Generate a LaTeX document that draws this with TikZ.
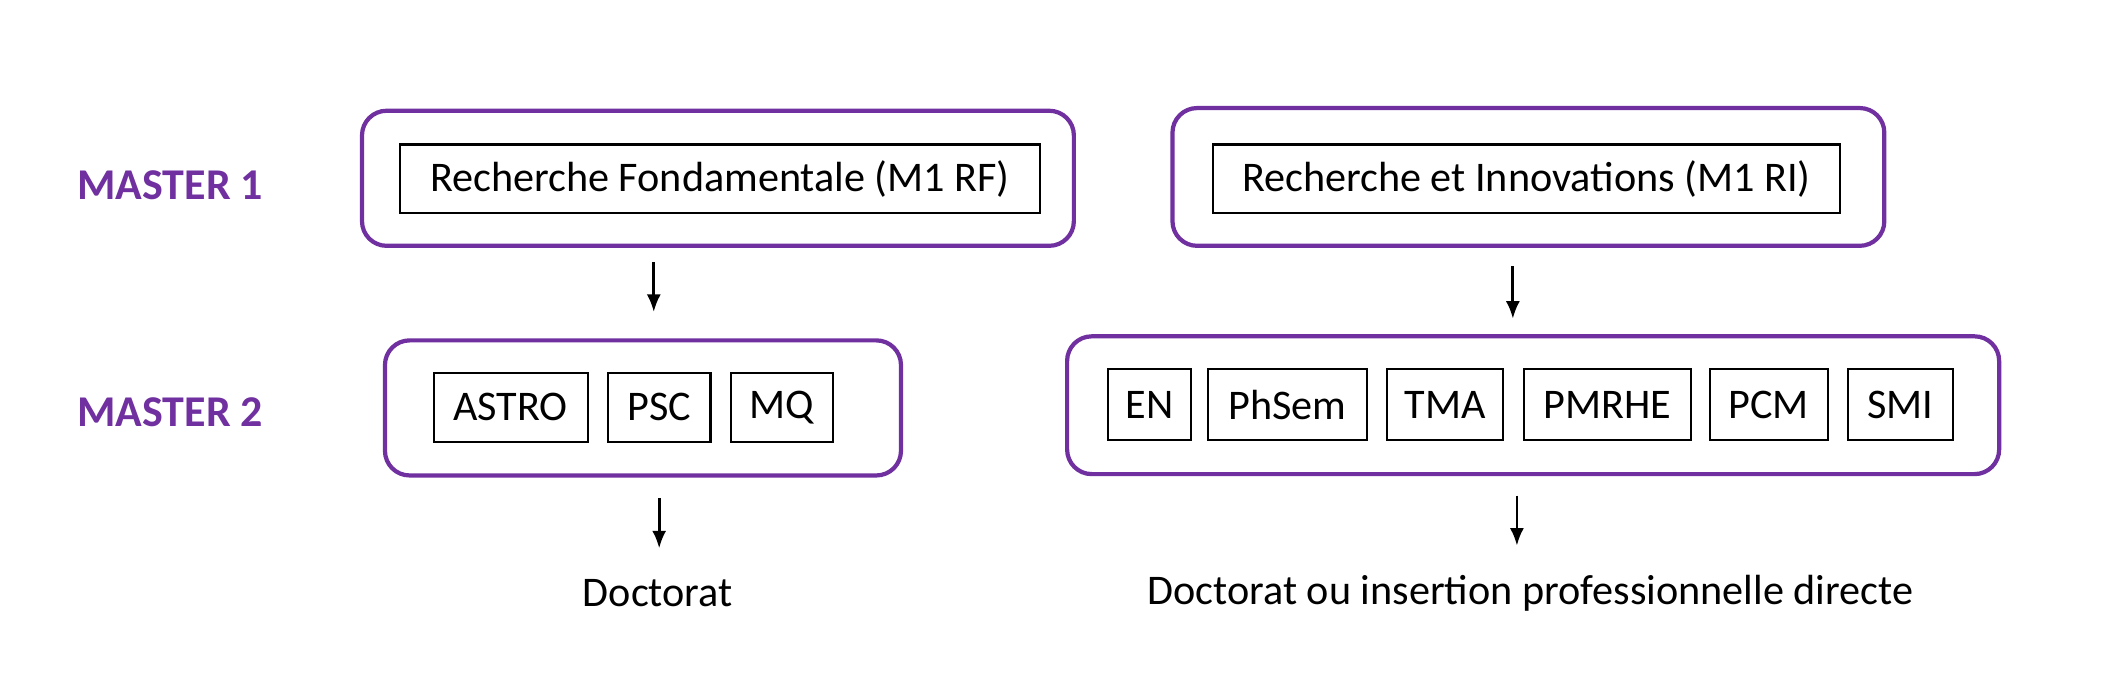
\documentclass[tikz,border=0pt]{standalone}
\usepackage{fontspec}
\setmainfont{Carlito}
\usetikzlibrary{positioning}
\usetikzlibrary{arrows.meta}
\definecolor{mpurple}{RGB}{112,48,160}
\newcommand{\px}{0.01351cm}
\begin{document}
\begin{tikzpicture}[x=\px, y=-\px,
                    every node/.style={font=\fontsize{12}{14}\selectfont},
                    outer/.style={draw=mpurple, line width=1.2pt, rounded corners=7pt, inner sep=0pt},
                    inner/.style={draw, line width=0.6pt, minimum height=51*\px, inner sep=0pt},
                    level/.style={text=mpurple, font=\fontsize{12.5}{14}\selectfont\bfseries},
                    next/.style={-{Latex[length=5pt,width=4pt]}, line width=0.8pt}]
    \useasboundingbox (0,0) rectangle (1568,512);
    % labels
    \node[level] (m1) at (126,137) {MASTER 1};
    \node[level] (m2) at (126,305) {MASTER 2};
    % master 1
    \node[outer, minimum width=527*\px, minimum height=100*\px] (rf) at (531.5,132) {};
    \node[inner, minimum width=474*\px] (rfin) at (533,132.5) {Recherche Fondamentale (M1 RF)};
    \node[outer, minimum width=527*\px, minimum height=102*\px] (ri) at (1131.5,131) {};
    \node[inner, minimum width=464*\px] (riin) at (1130,132.5) {Recherche et Innovations (M1 RI)};
    % master 2
    \node[outer, minimum width=382*\px, minimum height=100*\px] (fund) at (476,302) {};
    \node[inner, minimum width=114*\px] (astro) at (378,301.5) {ASTRO};
    \node[inner, minimum width=76*\px] (psc) at (488,301.5) {PSC};
    \node[inner, minimum width=76*\px] (mq) at (579,301.5) {MQ};
    \node[outer, minimum width=690*\px, minimum height=102*\px] (inno) at (1135,300) {};
    \node[inner, minimum width=62*\px, minimum height=53*\px] (en) at (851,299.5) {EN};
    \node[inner, minimum width=118*\px, minimum height=53*\px] (phsem) at (953,299.5) {PhSem};
    \node[inner, minimum width=86*\px, minimum height=53*\px] (tma) at (1070,299.5) {TMA};
    \node[inner, minimum width=124*\px, minimum height=53*\px] (pmrhe) at (1190,299.5) {PMRHE};
    \node[inner, minimum width=87*\px, minimum height=53*\px] (pcm) at (1309.5,299.5) {PCM};
    \node[inner, minimum width=78*\px, minimum height=53*\px] (smi) at (1407,299.5) {SMI};
    % outcomes
    \node (doc) at (487,439) {Doctorat};
    \node (pro) at (1133,439) {Doctorat ou insertion professionnelle directe};
    % arrows
    \coordinate (a1) at (484,194); \coordinate (b1) at (484,231);
    \coordinate (a2) at (1120,197); \coordinate (b2) at (1120,236);
    \coordinate (a3) at (488,369); \coordinate (b3) at (488,406);
    \coordinate (a4) at (1123,367); \coordinate (b4) at (1123,404);
    \draw[next] (a1) -- (b1);
    \draw[next] (a2) -- (b2);
    \draw[next] (a3) -- (b3);
    \draw[next] (a4) -- (b4);
\end{tikzpicture}
\end{document}
